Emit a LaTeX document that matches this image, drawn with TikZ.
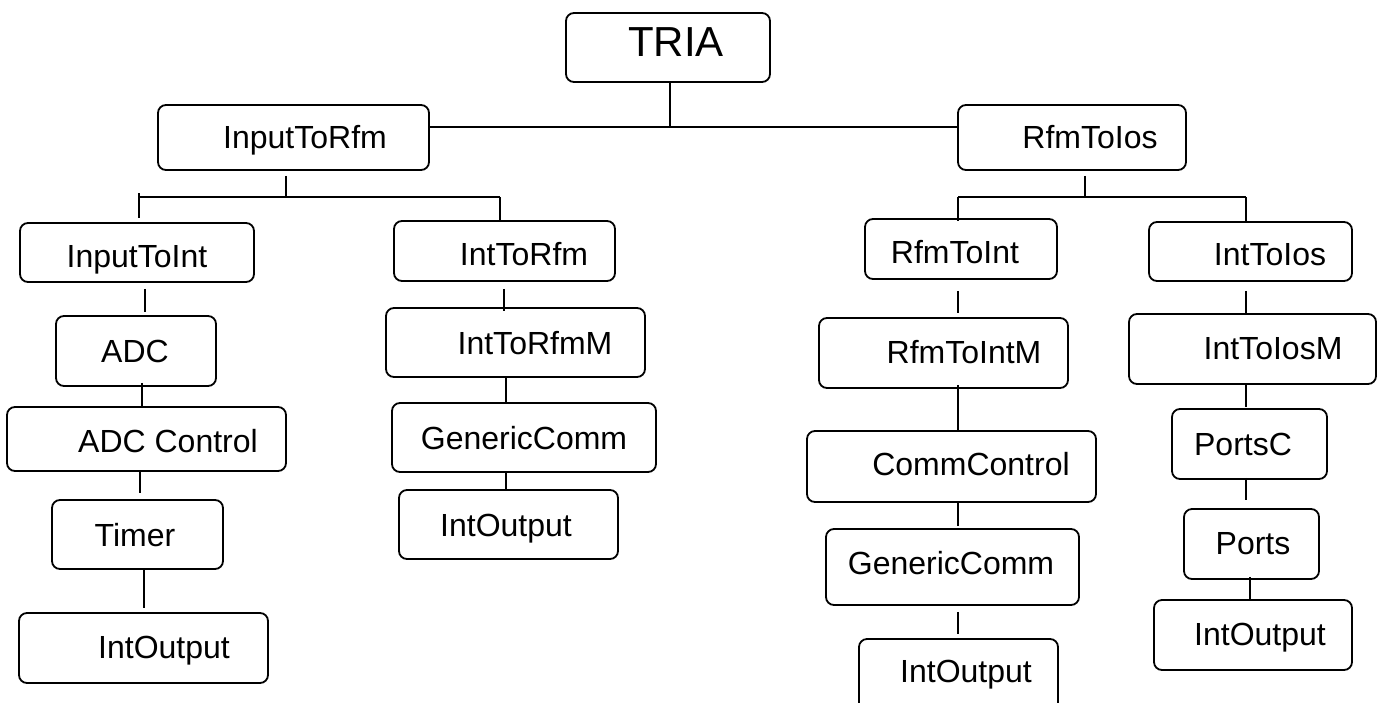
\documentclass[tikz,border=0pt]{standalone}
\usepackage{fontspec}
\setmainfont{Liberation Sans}
\usetikzlibrary{calc}
\tikzset{
  bx/.style={draw, line width=1.8pt, rounded corners=8pt, inner sep=0pt},
  lbl/.style={font=\fontsize{32}{38}\selectfont, text height=23pt, text depth=0pt, inner sep=0pt},
  big/.style={font=\fontsize{42}{50}\selectfont, text height=30pt, text depth=0pt, inner sep=0pt},
  conn/.style={line width=1.6pt}
}
\begin{document}
\begin{tikzpicture}[x=1pt,y=-1pt]
\useasboundingbox (0,0) rectangle (1380,702);
\clip (0,0) rectangle (1380,702);
\fill[white] (0,0) rectangle (1380,702);
% boxes
\node[bx, minimum width=204pt, minimum height=69pt, label={[big,xshift=8pt,yshift=6pt]center:TRIA}] (tria) at (668,47.5) {};
\node[bx, minimum width=271pt, minimum height=65pt, label={[lbl,xshift=11.5pt,yshift=1pt]center:InputToRfm}] (itr) at (293.5,137.5) {};
\node[bx, minimum width=228pt, minimum height=65pt, label={[lbl,xshift=18pt,yshift=1pt]center:RfmToIos}] (rti) at (1072,137.5) {};
\node[bx, minimum width=234pt, minimum height=59pt, label={[lbl,xshift=0pt,yshift=-3pt]center:InputToInt}] (iti) at (137,252.5) {};
\node[bx, minimum width=221pt, minimum height=60pt, label={[lbl,xshift=19.5pt,yshift=-3pt]center:IntToRfm}] (itrf) at (504.5,251) {};
\node[bx, minimum width=192pt, minimum height=60pt, label={[lbl,xshift=-6pt,yshift=-3pt]center:RfmToInt}] (rtint) at (961,249) {};
\node[bx, minimum width=203pt, minimum height=59pt, label={[lbl,xshift=19.5pt,yshift=-2.5pt]center:IntToIos}] (itios) at (1250.5,251.5) {};
% left column
\node[bx, minimum width=160pt, minimum height=70pt, label={[lbl,xshift=-1pt]center:ADC}] (adc) at (136,351) {};
\node[bx, minimum width=279pt, minimum height=64pt, label={[lbl,xshift=21.5pt,yshift=-2pt]center:ADC Control}] (adcc) at (146.5,439) {};
\node[bx, minimum width=171pt, minimum height=69pt, label={[lbl,xshift=-2.5pt]center:Timer}] (timer) at (137.5,534.5) {};
\node[bx, minimum width=249pt, minimum height=70pt, label={[lbl,xshift=20.5pt,yshift=1pt]center:IntOutput}] (io1) at (143.5,648) {};
% IntToRfm column
\node[bx, minimum width=259pt, minimum height=69pt, label={[lbl,xshift=19.5pt]center:IntToRfmM}] (itrfm) at (515.5,342.5) {};
\node[bx, minimum width=264pt, minimum height=69pt, label={[lbl,xshift=0pt]center:GenericComm}] (gc1) at (524,437.5) {};
\node[bx, minimum width=219pt, minimum height=69pt, label={[lbl,xshift=-2.5pt]center:IntOutput}] (io2) at (508.5,524.5) {};
% RfmToInt column
\node[bx, minimum width=249pt, minimum height=70pt, label={[lbl,xshift=20.5pt,yshift=1pt]center:RfmToIntM}] (rtintm) at (943.5,353) {};
\node[bx, minimum width=289pt, minimum height=71pt, label={[lbl,xshift=19.5pt,yshift=2.5pt]center:CommControl}] (cc) at (951.5,466.5) {};
\node[bx, minimum width=253pt, minimum height=76pt, label={[lbl,xshift=-1.5pt,yshift=4pt]center:GenericComm}] (gc2) at (952.5,567) {};
\node[bx, minimum width=199pt, minimum height=73pt, label={[lbl,xshift=7.5pt,yshift=4.5pt]center:IntOutput}] (io3) at (958.5,675.5) {};
% IntToIos column
\node[bx, minimum width=247pt, minimum height=70pt, label={[lbl,xshift=20.5pt,yshift=1pt]center:IntToIosM}] (itiosm) at (1252.5,349) {};
\node[bx, minimum width=155pt, minimum height=70pt, label={[lbl,xshift=-6.5pt]center:PortsC}] (portsc) at (1249.5,444) {};
\node[bx, minimum width=135pt, minimum height=70pt, label={[lbl,xshift=1.5pt,yshift=1pt]center:Ports}] (ports) at (1251.5,544) {};
\node[bx, minimum width=198pt, minimum height=70pt, label={[lbl,xshift=7pt,yshift=1pt]center:IntOutput}] (io4) at (1253,635) {};
% junctions
\coordinate (j1) at (670,127);
\coordinate (j2) at (286,197);
\coordinate (j2l) at (139,197);
\coordinate (j2r) at (500,197);
\coordinate (j3) at (1085,197);
\coordinate (j3l) at (958,197);
\coordinate (j3r) at (1246,197);
% top connectors
\draw[conn] ($(tria.south)+(2,0)$) -- (j1);
\draw[conn] (itr.east |- j1) -- (rti.west |- j1);
\draw[conn] ($(itr.south)+(-7.5,5)$) -- (j2);
\draw[conn] (j2l) -- (j2r);
\draw[conn] ($(j2l)+(0,-4)$) -- ($(iti.north)+(2,-4)$);
\draw[conn] (j2r) -- ($(itrf.north)+(-4.5,0)$);
\draw[conn] ($(rti.south)+(13,5)$) -- (j3);
\draw[conn] (j3l) -- (j3r);
\draw[conn] (j3l) -- ($(rtint.north)+(-3,3)$);
\draw[conn] (j3r) -- ($(itios.north)+(-4.5,0)$);
% left column connectors
\draw[conn] ($(iti.south)+(8,6)$) -- ($(adc.north)+(9,-3)$);
\draw[conn] ($(adc.south)+(6,-4)$) -- ($(adcc.north)+(-4.5,0)$);
\draw[conn] ($(adcc.south)+(-6.5,0)$) -- ($(timer.north)+(2.5,-6)$);
\draw[conn] ($(timer.south)+(6.5,0)$) -- ($(io1.north)+(0.5,-4)$);
% IntToRfm column connectors
\draw[conn] ($(itrf.south)+(-0.5,7)$) -- ($(itrfm.north)+(-11.5,4)$);
\draw[conn] ($(itrfm.south)+(-9.5,0)$) -- ($(gc1.north)+(-18,0)$);
\draw[conn] ($(gc1.south)+(-18,0)$) -- ($(io2.north)+(-2.5,0)$);
% RfmToInt column connectors
\draw[conn] ($(rtint.south)+(-3,11)$) -- ($(rtintm.north)+(14.5,-4)$);
\draw[conn] ($(rtintm.south)+(14.5,-4)$) -- ($(cc.north)+(6.5,0)$);
\draw[conn] ($(cc.south)+(6.5,0)$) -- ($(gc2.north)+(5.5,-2)$);
\draw[conn] ($(gc2.south)+(5.5,6)$) -- ($(io3.north)+(-0.5,-4)$);
% IntToIos column connectors
\draw[conn] ($(itios.south)+(-4.5,9)$) -- ($(itiosm.north)+(-6.5,0)$);
\draw[conn] ($(itiosm.south)+(-6.5,0)$) -- ($(portsc.north)+(-3.5,-1)$);
\draw[conn] ($(portsc.south)+(-3.5,-2)$) -- ($(ports.north)+(-5.5,-8)$);
\draw[conn] ($(ports.south)+(-1.5,-3)$) -- ($(io4.north)+(-3,0)$);
\end{tikzpicture}
\end{document}
